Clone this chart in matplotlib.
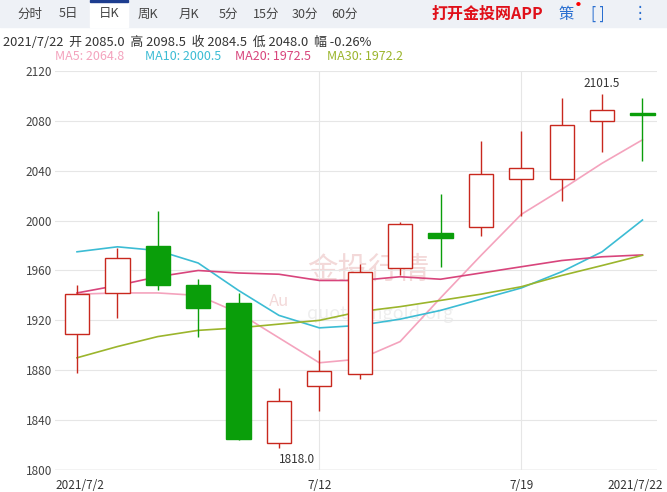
import matplotlib
matplotlib.use("Agg")
import matplotlib.pyplot as plt
from matplotlib.patches import Rectangle

plt.rcParams['font.family'] = ['Noto Sans CJK SC', 'DejaVu Sans']

dates = ['7/2', '7/5', '7/6', '7/7', '7/8', '7/9', '7/12', '7/13', '7/14', '7/15',
         '7/16', '7/19', '7/20', '7/21', '7/22']
opens = [1909, 1942, 1980, 1948, 1934, 1822, 1867, 1877, 1962, 1990, 1995, 2033, 2033, 2080, 2085.0]
closes = [1941, 1970, 1948, 1930, 1825, 1855, 1879, 1959, 1997, 1986, 2037, 2042, 2077, 2089, 2084.5]
highs = [1948, 1978, 2008, 1953, 1942, 1866, 1896, 1965, 1999, 2021, 2064, 2072, 2098, 2101.5, 2098.5]
lows = [1878, 1922, 1944, 1907, 1824, 1818, 1847, 1873, 1956, 1963, 1988, 2004, 2016, 2055, 2048.0]
ma5 = [1941, 1942, 1942, 1940, 1926, 1906, 1886, 1889, 1903, 1938, 1972, 2005, 2025, 2046, 2064.8]
ma10 = [1975, 1979, 1976, 1966, 1944, 1924, 1914, 1916, 1921, 1928, 1937, 1946, 1959, 1975, 2000.5]
ma20 = [1942, 1948, 1955, 1960, 1958, 1957, 1952, 1952, 1955, 1953, 1958, 1963, 1968, 1971, 1972.5]
ma30 = [1890, 1899, 1907, 1912, 1914, 1917, 1920, 1927, 1931, 1936, 1941, 1947, 1956, 1964, 1972.2]

RED = '#c8281e'
GREEN = '#0a9e0a'
C5, C10, C20, C30 = '#f4a3bd', '#3cbcd4', '#d8457c', '#9bb52c'

fig = plt.figure(figsize=(6.67, 4.92), dpi=100)
W, H = 667, 492

# toolbar
fig.patches.append(Rectangle((0, 1 - 27 / H), 1, 27 / H, transform=fig.transFigure,
                             color='#eef1f6', zorder=0))
fig.patches.append(Rectangle((90 / W, 1 - 27 / H), 38 / W, 27 / H, transform=fig.transFigure,
                             color='white', zorder=1))
fig.patches.append(Rectangle((90 / W, 1 - 2 / H), 38 / W, 2 / H, transform=fig.transFigure,
                             color='#1d3d8f', zorder=2))
tabs = [('分时', 30), ('5日', 68), ('日K', 109), ('周K', 148), ('月K', 189),
        ('5分', 228), ('15分', 266), ('30分', 305), ('60分', 345)]
for t, x in tabs:
    fig.text(x / W, 1 - 14 / H, t, ha='center', va='center', fontsize=9, color='#444444')
fig.text(431 / W, 1 - 14 / H, '打开金投网APP', ha='left', va='center', fontsize=11.5,
         color='#e0101a', fontweight='bold')
fig.text(566 / W, 1 - 14 / H, '策', ha='center', va='center', fontsize=11, color='#2a6fd0')
fig.text(578 / W, 1 - 5 / H, '●', ha='center', va='center', fontsize=3.5, color='red')
fig.text(598 / W, 1 - 14 / H, '[ ]', ha='center', va='center', fontsize=11, color='#2a6fd0')
fig.text(640 / W, 1 - 14 / H, '⋮', ha='center', va='center', fontsize=12, color='#2a6fd0')

fig.text(3 / W, 1 - 42 / H, '2021/7/22  开 2085.0  高 2098.5  收 2084.5  低 2048.0  幅 -0.26%',
         ha='left', va='center', fontsize=9.3, color='#333333')
for t, x, c in [('MA5: 2064.8', 55, C5), ('MA10: 2000.5', 145, C10),
                ('MA20: 1972.5', 235, C20), ('MA30: 1972.2', 327, C30)]:
    fig.text(x / W, 1 - 57 / H, t, ha='left', va='center', fontsize=9, color=c)

ax = fig.add_axes([55 / W, 22 / H, 602 / W, 399 / H])
ax.set_xlim(-0.545, 14.36)
ax.set_ylim(1800, 2120)
for s in ax.spines.values():
    s.set_visible(False)
ax.axhline(1800, color='#cccccc', lw=1)
ax.set_yticks(range(1800, 2121, 40))
ax.tick_params(axis='y', length=0, labelsize=8.5, labelcolor='#444444', pad=2)
ax.set_xticks([])
ax.grid(axis='y', color='#e6e6e6', lw=0.8)
for i in (6, 11):
    ax.axvline(i, color='#e6e6e6', lw=0.8)

# watermark
ax.text(7.2, 1960, '金投行情', fontsize=22, color='#f3d9d9', ha='center', va='center', zorder=0)
ax.text(7.5, 1925, 'quote.cngold.org', fontsize=13, color='#eeeeee', ha='center', va='center', zorder=0)
ax.text(5.0, 1935, 'Au', fontsize=12, color='#f3d9d9', ha='center', va='center', zorder=0)

x = list(range(len(dates)))
ax.plot(x, ma5, color=C5, lw=1.2, zorder=2)
ax.plot(x, ma10, color=C10, lw=1.2, zorder=2)
ax.plot(x, ma20, color=C20, lw=1.2, zorder=2)
ax.plot(x, ma30, color=C30, lw=1.2, zorder=2)

bw = 0.6
for i in x:
    o, c, h, l = opens[i], closes[i], highs[i], lows[i]
    if c >= o:
        ax.vlines(i, l, o, color=RED, lw=1, zorder=3)
        ax.vlines(i, c, h, color=RED, lw=1, zorder=3)
        ax.add_patch(Rectangle((i - bw / 2, o), bw, c - o, facecolor='white',
                               edgecolor=RED, lw=1, zorder=4))
    else:
        ax.vlines(i, l, h, color=GREEN, lw=1, zorder=3)
        ax.add_patch(Rectangle((i - bw / 2, c), bw, max(o - c, 1.5), facecolor=GREEN,
                               edgecolor=GREEN, lw=1, zorder=4))

ax.text(5, 1818 - 4, '1818.0', ha='left', va='top', fontsize=8.5, color='#333333')
ax.text(13, 2101.5 + 3, '2101.5', ha='center', va='bottom', fontsize=8.5, color='#333333')

# date labels
ax.text(-0.545, 1793, '2021/7/2', ha='left', va='top', fontsize=8.5, color='#333333')
ax.text(6, 1793, '7/12', ha='center', va='top', fontsize=8.5, color='#333333')
ax.text(11, 1793, '7/19', ha='center', va='top', fontsize=8.5, color='#333333')
ax.text(14.5, 1793, '2021/7/22', ha='right', va='top', fontsize=8.5, color='#333333', clip_on=False)

fig.savefig('out.png', dpi=100)
